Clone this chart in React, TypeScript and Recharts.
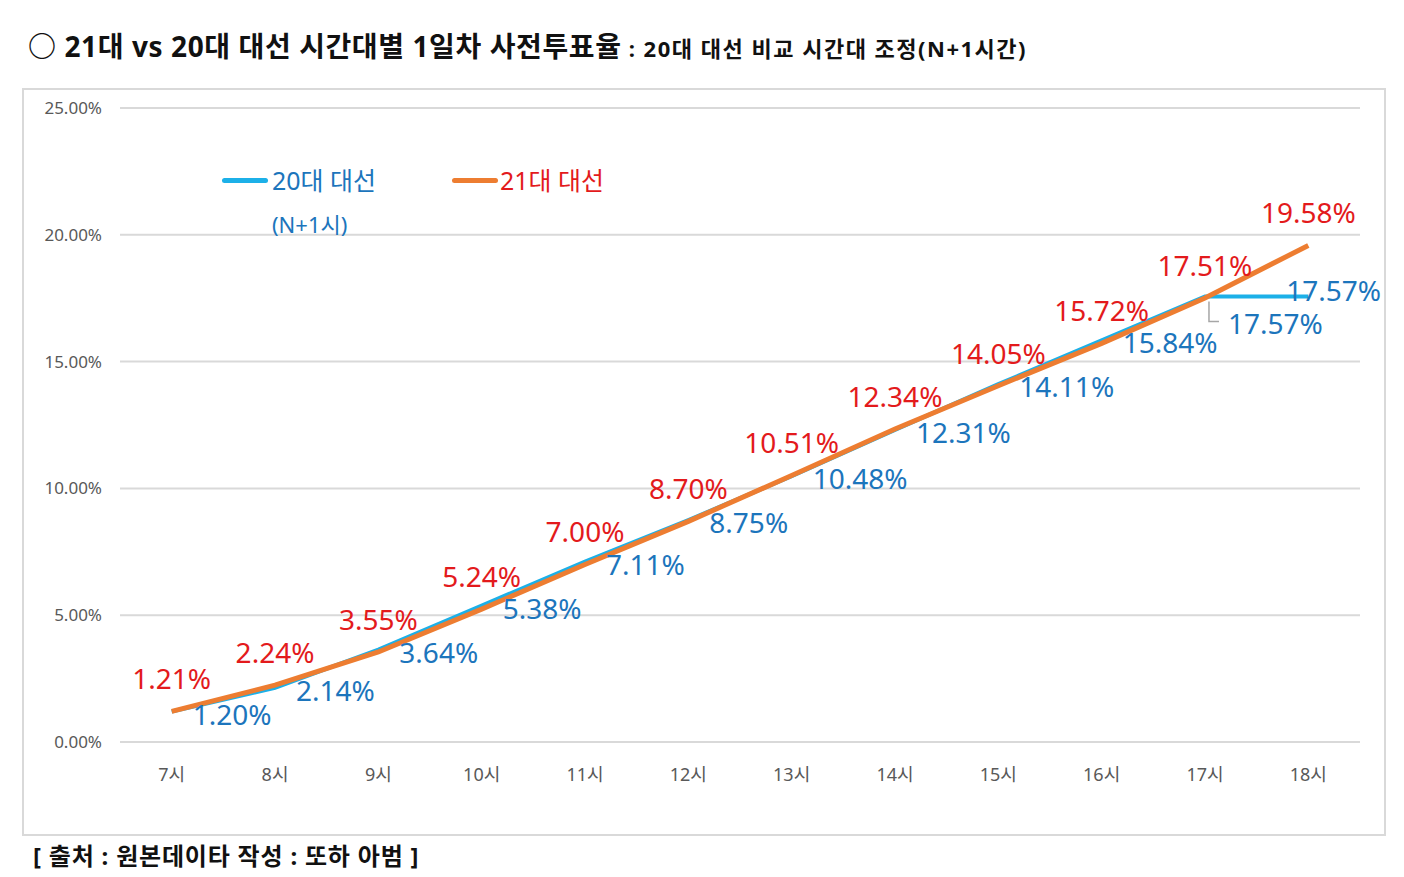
import React from 'react';
import { LineChart, Line, XAxis, YAxis, CartesianGrid, LabelList } from 'recharts';

const hours = ['7시', '8시', '9시', '10시', '11시', '12시', '13시', '14시', '15시', '16시', '17시', '18시'];
// 20대 대선 (N+1시 기준), 21대 대선 1일차 누적 사전투표율(%)
const vote20 = [1.2, 2.14, 3.64, 5.38, 7.11, 8.75, 10.48, 12.31, 14.11, 15.84, 17.57, 17.57];
const vote21 = [1.21, 2.24, 3.55, 5.24, 7.0, 8.7, 10.51, 12.34, 14.05, 15.72, 17.51, 19.58];
const yTicks = [0, 5, 10, 15, 20, 25];

const data = hours.map((h, i) => ({ hour: h, v20: vote20[i], v21: vote21[i] }));

const FONT = "'Noto Sans', 'Noto Sans CJK KR', sans-serif";
const BLUE_LINE = '#1cb0e8';
const ORANGE_LINE = '#ed7d31';
const BLUE_TEXT = '#1c75bc';
const RED_TEXT = '#e31a1c';
const GRAY = '#595959';

const pct = (v: number) => v.toFixed(2) + '%';

const Label21 = (props: any) => {
  const { x, y, value } = props;
  return (
    <text x={x} y={y - 33} textAnchor="middle" dominantBaseline="central" fill={RED_TEXT} fontSize={28} fontFamily={FONT}>
      {pct(value)}
    </text>
  );
};

const Label20 = (props: any) => {
  const { x, y, value, index } = props;
  if (index === 10) {
    return (
      <g>
        <polyline points={`${x + 4},${y + 5} ${x + 4},${y + 25} ${x + 14},${y + 25}`} fill="none" stroke="#a6a6a6" strokeWidth={1.5} />
        <text x={x + 23} y={y + 27} textAnchor="start" dominantBaseline="central" fill={BLUE_TEXT} fontSize={28} fontFamily={FONT}>
          {pct(value)}
        </text>
      </g>
    );
  }
  const dx = index === 11 ? -22 : 21;
  const dy = index === 11 ? -6 : 2;
  return (
    <text x={x + dx} y={y + dy} textAnchor="start" dominantBaseline="central" fill={BLUE_TEXT} fontSize={28} fontFamily={FONT}>
      {pct(value)}
    </text>
  );
};

const LegendBox = () => (
  <div style={{ position: 'absolute', left: 214, top: 160, width: 420, height: 80, fontFamily: FONT }}>
    <div style={{ position: 'absolute', left: 0, top: 10, width: 46, height: 5, borderRadius: 3, background: BLUE_LINE }} />
    <div style={{ position: 'absolute', left: 50, top: -7, fontSize: 25, color: BLUE_TEXT, whiteSpace: 'nowrap' }}>20대 대선</div>
    <div style={{ position: 'absolute', left: 50, top: 39, fontSize: 22, color: BLUE_TEXT, whiteSpace: 'nowrap' }}>(N+1시)</div>
    <div style={{ position: 'absolute', left: 230, top: 10, width: 46, height: 5, borderRadius: 3, background: ORANGE_LINE }} />
    <div style={{ position: 'absolute', left: 278, top: -7, fontSize: 25, color: RED_TEXT, whiteSpace: 'nowrap' }}>21대 대선</div>
  </div>
);

const App = () => {
  return (
    <div style={{ position: 'relative', width: 1388, height: 869, fontFamily: FONT }}>
      <div style={{ position: 'absolute', left: 20, top: 17, whiteSpace: 'nowrap', fontWeight: 700, color: '#111' }}>
        <span style={{ fontSize: 28, letterSpacing: 0.6 }}>○ 21대 vs 20대 대선 시간대별 1일차 사전투표율</span>
        <span style={{ fontSize: 22, letterSpacing: 1.5 }}> : 20대 대선 비교 시간대 조정(N+1시간)</span>
      </div>
      <div style={{ position: 'absolute', left: 14, top: 80, width: 1364, height: 748, border: '2px solid #d9d9d9', boxSizing: 'border-box' }}>
        <LineChart width={1360} height={744} data={data} margin={{ top: 18, right: 24, bottom: 30, left: 0 }}>
          <CartesianGrid vertical={false} stroke="#d9d9d9" strokeWidth={2} />
          <XAxis
            dataKey="hour"
            padding={{ left: 51.7, right: 51.7 }}
            axisLine={{ stroke: '#d9d9d9', strokeWidth: 2 }}
            tickLine={false}
            tickSize={0}
            tickMargin={26}
            height={62}
            tick={{ fill: GRAY, fontSize: 18, fontFamily: FONT }}
          />
          <YAxis
            domain={[0, 25]}
            ticks={yTicks}
            tickFormatter={pct}
            axisLine={false}
            tickLine={false}
            tickSize={0}
            tickMargin={18}
            width={96}
            tick={{ fill: GRAY, fontSize: 17, fontFamily: FONT }}
          />
          <Line type="linear" dataKey="v20" stroke={BLUE_LINE} strokeWidth={4} dot={false} isAnimationActive={false}>
            <LabelList dataKey="v20" content={<Label20 />} />
          </Line>
          <Line type="linear" dataKey="v21" stroke={ORANGE_LINE} strokeWidth={5} dot={false} isAnimationActive={false}>
            <LabelList dataKey="v21" content={<Label21 />} />
          </Line>
        </LineChart>
      </div>
      <LegendBox />
      <div style={{ position: 'absolute', left: 25, top: 829, whiteSpace: 'nowrap', fontWeight: 700, fontSize: 24, letterSpacing: 0.8, color: '#111' }}>
        [ 출처 : 원본데이타 작성 : 또하 아범 ]
      </div>
    </div>
  );
};

export default App;
